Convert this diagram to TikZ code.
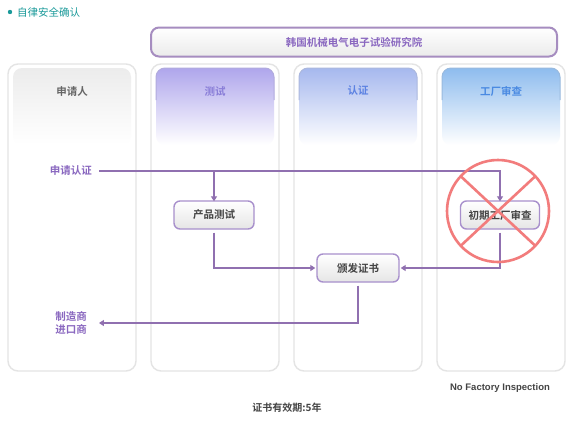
\documentclass[tikz,border=0pt]{standalone}
\usepackage{fontspec}
\setmainfont{Liberation Sans}
\newfontfamily\cjk{Noto Sans CJK SC}[BoldFont={Noto Sans CJK SC Bold}]
\usetikzlibrary{arrows.meta,calc}
\definecolor{teal1}{HTML}{1A9A9A}
\definecolor{lineP}{HTML}{9070B0}
\definecolor{boxB}{HTML}{A890CC}
\definecolor{txtP}{HTML}{8A68C0}
\definecolor{colB}{HTML}{E4E4E4}
\definecolor{hdrP}{HTML}{AFA6EC}
\definecolor{hdrB}{HTML}{A6B8EE}
\definecolor{hdrC}{HTML}{8EBCEE}
\definecolor{hdrG}{HTML}{ECECEC}
\definecolor{redX}{HTML}{F27C7C}
\definecolor{darkT}{HTML}{444444}
\definecolor{tP}{HTML}{8A7ED8}
\definecolor{tB}{HTML}{5C82E2}
\definecolor{tC}{HTML}{4A8AE2}
\tikzset{
  colbox/.style={draw=colB,line width=1.4pt,rounded corners=10pt,fill=white},
  stepbox/.style={draw=boxB,line width=1.4pt,rounded corners=6pt,top color=white,bottom color=black!10,
    minimum width=80pt,minimum height=28pt,font=\cjk\bfseries\fontsize{10.5}{12}\selectfont,text=darkT},
  conn/.style={draw=lineP,line width=1.8pt},
  arr/.style={conn,-{Triangle[length=5pt,width=6pt]}},
  hdrtext/.style={font=\cjk\bfseries\fontsize{10.5}{12}\selectfont},
  lbl/.style={font=\cjk\bfseries\fontsize{10.5}{13}\selectfont,text=txtP,align=center}
}
\begin{document}
\begin{tikzpicture}[x=1pt,y=-1pt]
\useasboundingbox[fill=white] (0,0) rectangle (585,421);
% title
\fill[teal1] (10,12) circle (2.2pt);
\node[anchor=west,font=\cjk\fontsize{10.5}{12}\selectfont,text=teal1,inner sep=0] (title) at (17,12) {自律安全确认};
% banner
\node[draw=lineP!80,line width=2pt,rounded corners=8pt,top color=white,bottom color=black!8,
  minimum width=406pt,minimum height=29pt,font=\cjk\bfseries\fontsize{10.5}{12}\selectfont,text=txtP,
  inner sep=0pt] (banner) at (354,42) {韩国机械电气电子试验研究院};
% columns
\foreach \x/\c in {8/hdrG,151/hdrP,294/hdrB,437/hdrC}{
  \draw[colbox] (\x,64) rectangle ++(128,307);
  \shade[top color=\c,bottom color=white,middle color=\c!50,rounded corners=9pt]
     (\x+5,145) -- (\x+5,68) -- (\x+123,68) -- (\x+123,145) -- cycle;
}
\foreach \x/\c in {151/hdrP,294/hdrB,437/hdrC}{
  \draw[\c!90!black!80,line width=1pt,rounded corners=9pt] (\x+5,100) -- (\x+5,68) -- (\x+123,68) -- (\x+123,100);
}
\node[hdrtext,text=black!60] (h1) at (72,92) {申请人};
\node[hdrtext,text=tP] (h2) at (215,92) {测试};
\node[hdrtext,text=tB] (h3) at (358,91) {认证};
\node[hdrtext,text=tC] (h4) at (501,91) {工厂审查};
% labels
\node[lbl,anchor=east,inner sep=2pt] (apply) at (94,171) {申请认证};
\node[lbl,inner sep=1pt] (maker) at (71,323) {制造商\\进口商};
% boxes
\node[stepbox] (test) at (214,215) {产品测试};
\node[stepbox,minimum width=82pt] (cert) at (358,268) {颁发证书};
\node[stepbox,minimum width=79pt] (factory) at (500,215) {初期工厂审查};
% connectors
\draw[arr] ([xshift=5pt]apply.east) -| ([yshift=-1pt]factory.north);
\draw[arr] (test.north |- apply.east) -- ([yshift=-1pt]test.north);
\draw[arr] ([yshift=-3pt]test.south) |- ([xshift=-1pt]cert.west);
\draw[arr] ([yshift=-3pt]factory.south) |- ([xshift=1pt]cert.east);
\draw[arr] ([yshift=-3pt]cert.south) |- ([xshift=11pt]maker.east);
% red cross
\draw[redX,line width=2.6pt] (498,211) circle (51pt);
\draw[redX,line width=2.6pt] ($(498,211)+(137:51)$) -- ($(498,211)+(-43:51)$);
\draw[redX,line width=2.6pt] ($(498,211)+(43:51)$) -- ($(498,211)+(-137:51)$);
% footnotes
\node[font=\bfseries\fontsize{9.5}{11}\selectfont,text=darkT] (nofi) at (500,388) {No Factory Inspection};
\node[font=\cjk\bfseries\fontsize{10}{12}\selectfont,text=darkT] (valid) at (287,408) {证书有效期:5年};
\end{tikzpicture}
\end{document}
